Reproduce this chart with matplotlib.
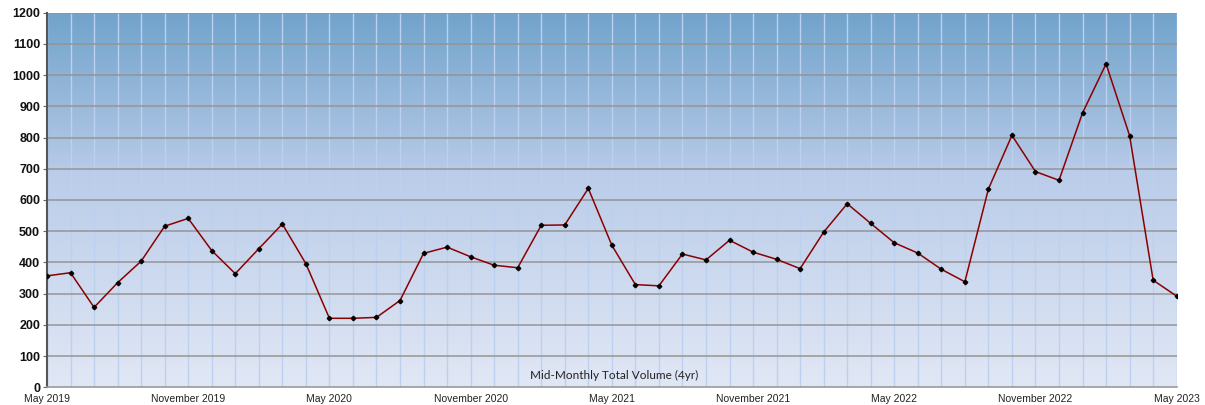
import numpy as np
import matplotlib
matplotlib.use("Agg")
import matplotlib.pyplot as plt
from matplotlib.colors import LinearSegmentedColormap

# Data
months = ["May 2019", "Jun 2019", "Jul 2019", "Aug 2019", "Sep 2019", "Oct 2019", "Nov 2019", "Dec 2019",
          "Jan 2020", "Feb 2020", "Mar 2020", "Apr 2020", "May 2020", "Jun 2020", "Jul 2020", "Aug 2020",
          "Sep 2020", "Oct 2020", "Nov 2020", "Dec 2020", "Jan 2021", "Feb 2021", "Mar 2021", "Apr 2021",
          "May 2021", "Jun 2021", "Jul 2021", "Aug 2021", "Sep 2021", "Oct 2021", "Nov 2021", "Dec 2021",
          "Jan 2022", "Feb 2022", "Mar 2022", "Apr 2022", "May 2022", "Jun 2022", "Jul 2022", "Aug 2022",
          "Sep 2022", "Oct 2022", "Nov 2022", "Dec 2022", "Jan 2023", "Feb 2023", "Mar 2023", "Apr 2023",
          "May 2023"]
volume = [357, 367, 256, 335, 404, 516, 541, 438,
          364, 444, 523, 396, 221, 221, 224, 278,
          429, 449, 418, 391, 383, 519, 520, 637,
          455, 329, 325, 427, 408, 471, 433, 410,
          380, 497, 588, 525, 463, 430, 378, 338,
          635, 807, 691, 663, 879, 1036, 806, 343,
          292]
tick_labels = ["May 2019", "November 2019", "May 2020", "November 2020", "May 2021",
               "November 2021", "May 2022", "November 2022", "May 2023"]
y_ticks = [0, 100, 200, 300, 400, 500, 600, 700, 800, 900, 1000, 1100, 1200]
annotation = "Mid-Monthly Total Volume (4yr)"

fig = plt.figure(figsize=(12.05, 4.05), dpi=100)
ax = fig.add_axes([0.039, 0.0437, 0.9375, 0.925])

x = np.arange(len(volume))
n = len(volume) - 1

# gradient background
cmap = LinearSegmentedColormap.from_list(
    "bg", [(0.0, "#e1e7f5"), (0.58, "#b9cce9"), (0.6, "#b3c8e6"), (1.0, "#71a3cb")])
grad = np.linspace(0, 1, 256).reshape(-1, 1)
ax.imshow(grad, aspect="auto", cmap=cmap, origin="lower",
          extent=[0, n, 0, 1200], zorder=0)

# grid lines
for xi in x:
    ax.axvline(xi, color="#bcd0ef", lw=1.0, zorder=1)
for yv in y_ticks[1:]:
    ax.axhline(yv, color="#959595", lw=1.1, zorder=1.5)

ax.plot(x, volume, color="#8b0000", lw=1.1, zorder=3)
ax.plot(x, volume, linestyle="none", marker="D", ms=2.3, color="black", zorder=4)

ax.set_xlim(0, n)
ax.set_ylim(0, 1200)
ax.set_yticks(y_ticks)
ax.set_yticklabels([str(v) for v in y_ticks], fontsize=9, fontweight="bold",
                   family="Liberation Sans", color="#111111")
ax.set_xticks(x[::6])
ax.set_xticklabels(tick_labels, fontsize=7.5, family="Liberation Sans", color="#222222")
ax.tick_params(axis="y", length=3, width=0.8, color="#666666", pad=2)
ax.tick_params(axis="x", length=0, pad=5)

for s in ["top", "right"]:
    ax.spines[s].set_visible(False)
ax.spines["left"].set_color("#555555")
ax.spines["left"].set_linewidth(1.5)
ax.spines["bottom"].set_color("#9a9a9a")
ax.spines["bottom"].set_linewidth(1.2)

ax.text(24.1, 37, annotation, ha="center", va="center", fontsize=8.5,
        family="Lato", color="#222222", zorder=5)

fig.savefig("out.png", dpi=100)
